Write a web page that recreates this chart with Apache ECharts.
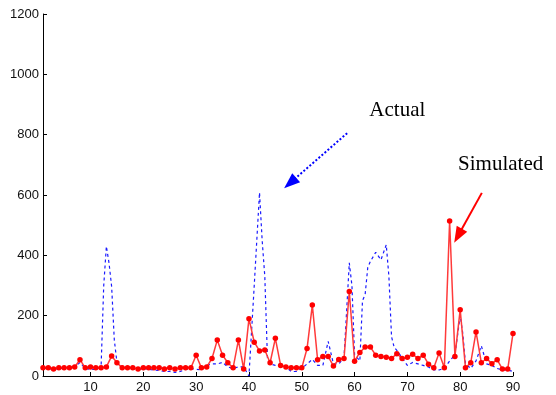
<!DOCTYPE html>
<html><head><meta charset="utf-8">
<script src="https://cdn.jsdelivr.net/npm/echarts@6/dist/echarts.min.js"></script>
<style>html,body{margin:0;padding:0;background:#fff}#c{width:556px;height:395px}</style>
</head><body><div id="c"></div>
<script>
// Simulated (red) series, x = 1..90
const simX = [];
for (let i = 1; i <= 90; i++) simX.push(i);
const simY = [27,27,23,27,27,27,30,54,27,30,27,27,30,66,44,27,27,27,23,27,
              27,27,27,23,27,23,27,27,27,69,27,30,58,119,69,44,27,119,23,190,
              112,83,86,44,125,35,30,27,27,27,91,235,54,65,65,33,55,58,280,49,
              78,96,96,69,65,62,58,74,58,62,72,58,69,39,27,76,27,514,65,220,
              27,44,146,44,58,41,54,23,23,141];
// Actual (blue dashed) series
const actX = [1,2,3,4,5,6,7,8,9,10,11,12,12.5,13,13.5,14,14.5,15,16,17,18,19,20,21,22,23,24,25,26,27,28,29,30,
              31,32,33,34,35,36,37,38,39,40,41,42,42.5,43,43.5,44,45,46,47,48,49,50,51,52,53,54,55,56,57,58,
              59,59.5,60,61,61.5,62,62.5,63,64,65,66,66.5,67,67.5,68,69,70,71,72,73,74,75,76,77,78,79,80,80.5,
              81,82,83,84,85,86,87,88,89,90];
const actY = [25,25,22,25,25,25,30,45,25,22,22,30,300,430,375,296,120,45,30,28,25,20,25,22,20,18,15,15,12,15,22,25,22,
              20,35,40,40,45,30,25,30,30,0,300,608,450,330,60,40,35,40,30,15,15,25,40,55,35,35,115,40,40,60,
              375,300,70,50,250,270,360,380,410,385,435,330,130,95,85,60,35,45,40,35,30,20,20,25,50,70,200,140,
              40,25,50,100,40,35,25,20,20,15];
const yTicks = [0,200,400,600,800,1000,1200];
const xTicks = [10,20,30,40,50,60,70,80,90];
// annotations in data coordinates
const actualLabel = {text:'Actual', x:62.8, y:880};
const actualArrow = [[58.6,805],[47.8,640]];
const simLabel = {text:'Simulated', x:79.6, y:700};
const simArrow = [[84.1,607],[79.6,465]];

const chart = echarts.init(document.getElementById('c'));
const axisText = {color:'#111', fontFamily:'Liberation Sans, Arial, sans-serif', fontSize:13};
chart.setOption({
  animation:false,
  grid:{left:43, right:43, top:14, bottom:19, containLabel:false},
  xAxis:{type:'value', min:1, max:90,
    axisLine:{lineStyle:{color:'#000', width:1}},
    axisTick:{inside:true, length:4, customValues:xTicks, lineStyle:{color:'#000'}},
    axisLabel:Object.assign({customValues:xTicks, margin:5}, axisText),
    splitLine:{show:false}},
  yAxis:{type:'value', min:0, max:1200, interval:200,
    axisLine:{show:true, lineStyle:{color:'#000', width:1}},
    axisTick:{show:true, inside:true, length:4, lineStyle:{color:'#000'}},
    axisLabel:Object.assign({margin:4, formatter:v=>String(v)}, axisText),
    splitLine:{show:false}},
  series:[
    {type:'line', name:'Actual', data:actX.map((x,i)=>[x,actY[i]]), showSymbol:false, symbol:'none',
     lineStyle:{color:'#1a1aff', width:1.2, type:[3,3]}, z:2,
     markLine:{silent:true, symbol:['none','triangle'], symbolSize:[12,16], animation:false,
       lineStyle:{color:'#0000ff', width:2, type:[2,2]}, label:{show:false},
       data:[[{coord:actualArrow[0]},{coord:actualArrow[1]}]]}},
    {type:'line', name:'Simulated', data:simX.map((x,i)=>[x,simY[i]]), symbol:'circle', symbolSize:5.5,
     itemStyle:{color:'#ff0000'}, lineStyle:{color:'#ff3a3a', width:1.5}, z:3,
     markLine:{silent:true, symbol:['none','triangle'], symbolSize:[12,16], animation:false,
       lineStyle:{color:'#ff0000', width:2, type:'solid'}, label:{show:false},
       data:[[{coord:simArrow[0]},{coord:simArrow[1]}]]}}
  ]
});
const p1 = chart.convertToPixel({gridIndex:0}, [actualLabel.x, actualLabel.y]);
const p2 = chart.convertToPixel({gridIndex:0}, [simLabel.x, simLabel.y]);
const tStyle = {fill:'#000', font:'21px "Liberation Serif", "Times New Roman", serif', textVerticalAlign:'middle'};
chart.setOption({graphic:[
  {type:'text', left:p1[0], top:p1[1]-11, style:Object.assign({text:actualLabel.text}, tStyle)},
  {type:'text', left:p2[0], top:p2[1]-11, style:Object.assign({text:simLabel.text}, tStyle)}
]});
</script></body></html>
